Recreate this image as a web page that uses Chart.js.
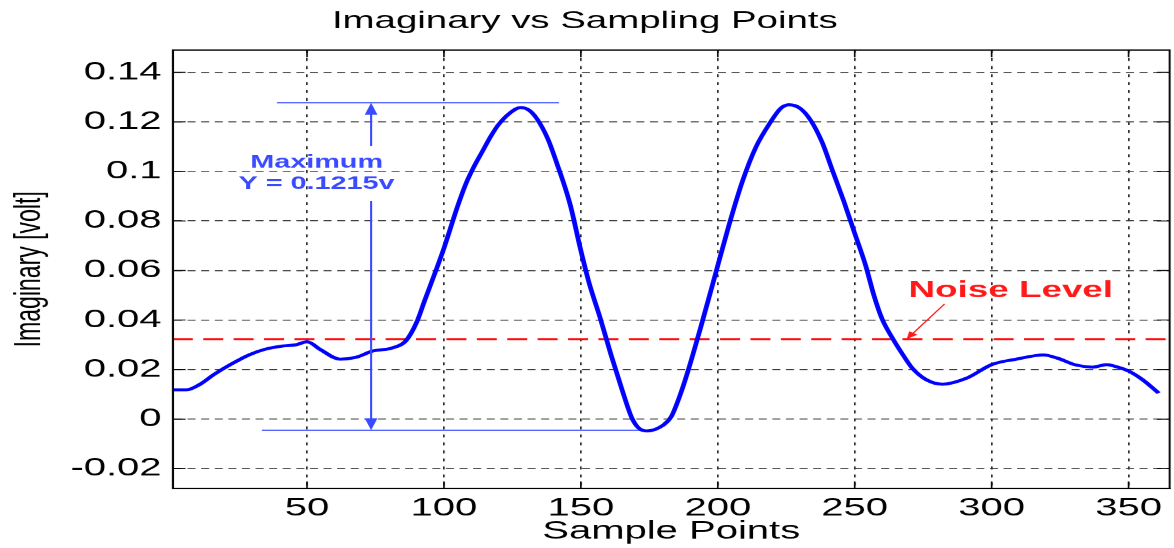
<!DOCTYPE html>
<html lang="en">
<head>
<meta charset="UTF-8">
<title>Imaginary vs Sampling Points</title>
<style>
    body { margin: 0; background: #fff; }
    #wrap { width: 1174px; height: 548px; overflow: hidden; }
    /* the original figure is a stretched MATLAB plot, so draw narrow and stretch */
    #chart { transform: scaleX(1.5995); transform-origin: 0 0; }
</style>
</head>
<body>
<div id="wrap"><canvas id="chart" width="734" height="548"></canvas></div>

<script src="https://cdn.jsdelivr.net/npm/chart.js"></script>
<script>
const samplePoints = [1, 6, 11, 16, 22, 29, 35, 41, 46, 50, 55, 62, 68, 74, 81, 86, 90, 93, 97, 100,
    105, 108, 111, 114, 117, 120, 124, 128, 131, 134, 138, 141, 146, 150, 153, 157, 161, 165, 168.6, 171,
    174, 177, 180, 183, 186, 189, 194, 199, 204, 209, 214, 219, 223, 226, 230, 234, 238, 242, 246, 250,
    254, 257, 260, 264, 267, 271, 276, 282, 291, 300, 309, 319, 324, 331, 337, 342, 346, 350, 355, 361];
const imagValues = [0.0118, 0.0118, 0.0141, 0.018, 0.022, 0.026, 0.0283, 0.0295, 0.030, 0.0312, 0.028, 0.0242, 0.025, 0.0275, 0.0287, 0.0315, 0.039, 0.048, 0.0598, 0.069,
    0.086, 0.095, 0.102, 0.108, 0.114, 0.119, 0.1235, 0.1258, 0.1248, 0.1212, 0.113, 0.104, 0.087, 0.068, 0.055, 0.041, 0.026, 0.012, 0.0005, -0.0035,
    -0.0048, -0.0042, -0.0025, 0.001, 0.009, 0.019, 0.038, 0.058, 0.078, 0.096, 0.110, 0.1195, 0.1255, 0.1269, 0.1255, 0.1205, 0.112, 0.100, 0.088, 0.075,
    0.062, 0.050, 0.0404, 0.0323, 0.027, 0.0206, 0.016, 0.0141, 0.0166, 0.022, 0.0242, 0.0259, 0.0246, 0.0218, 0.021, 0.022, 0.021, 0.0194, 0.016, 0.0105];

const noiseLevel = 0.0323;
const maxMarkX = [39, 142];
const maxMarkY = 0.1277;
const minMarkX = [33.5, 172.6];
const minMarkY = -0.0045;

const xTicks = [50, 100, 150, 200, 250, 300, 350];
const yTicks = [-0.02, 0, 0.02, 0.04, 0.06, 0.08, 0.1, 0.12, 0.14];

const FONT = '"Liberation Sans", Arial, Helvetica, sans-serif';
const ANNOT_BLUE = '#3a4bff';

const annotations = {
    id: 'annotations',
    afterDatasetsDraw(chart) {
        const { ctx, chartArea: a, scales: { x, y } } = chart;
        ctx.save();
        ctx.setLineDash([]);

        // axes box
        ctx.strokeStyle = '#000';
        ctx.lineWidth = 1.2;
        ctx.strokeRect(a.left, a.top, a.right - a.left, a.bottom - a.top);

        // inward tick marks on all four sides
        ctx.lineWidth = 1;
        ctx.beginPath();
        yTicks.forEach(v => {
            const py = y.getPixelForValue(v);
            ctx.moveTo(a.left, py); ctx.lineTo(a.left + 8, py);
            ctx.moveTo(a.right, py); ctx.lineTo(a.right - 8, py);
        });
        xTicks.forEach(v => {
            const px = x.getPixelForValue(v);
            ctx.moveTo(px, a.bottom); ctx.lineTo(px, a.bottom - 7);
            ctx.moveTo(px, a.top); ctx.lineTo(px, a.top + 7);
        });
        ctx.stroke();

        // double arrow between min and max markers
        const ax = x.getPixelForValue(73.4);
        const yTop = y.getPixelForValue(maxMarkY);
        const yBot = y.getPixelForValue(minMarkY);
        const gapTop = y.getPixelForValue(0.1103);
        const gapBot = y.getPixelForValue(0.0881);
        ctx.strokeStyle = ANNOT_BLUE;
        ctx.fillStyle = ANNOT_BLUE;
        ctx.lineWidth = 1.3;
        ctx.beginPath();
        ctx.moveTo(ax, yTop + 8); ctx.lineTo(ax, gapTop);
        ctx.moveTo(ax, gapBot); ctx.lineTo(ax, yBot - 8);
        ctx.stroke();
        ctx.beginPath();
        ctx.moveTo(ax, yTop); ctx.lineTo(ax - 4, yTop + 12); ctx.lineTo(ax + 4, yTop + 12); ctx.closePath();
        ctx.moveTo(ax, yBot); ctx.lineTo(ax - 4, yBot - 12); ctx.lineTo(ax + 4, yBot - 12); ctx.closePath();
        ctx.fill();

        ctx.font = 'bold 18px ' + FONT;
        ctx.textAlign = 'center';
        ctx.textBaseline = 'middle';
        const tx = x.getPixelForValue(53.5);
        ctx.fillText('Maximum', tx, y.getPixelForValue(0.1034));
        ctx.fillText('Y = 0.1215v', tx, y.getPixelForValue(0.095));

        // noise level label and pointer
        ctx.fillStyle = '#ff1a1a';
        ctx.strokeStyle = '#ff1a1a';
        ctx.font = 'bold 23px ' + FONT;
        ctx.fillText('Noise Level', x.getPixelForValue(307), y.getPixelForValue(0.0517));
        const x1 = x.getPixelForValue(282.8), y1 = y.getPixelForValue(0.0465);
        const x2 = x.getPixelForValue(269), y2 = y.getPixelForValue(0.0323);
        ctx.lineWidth = 1;
        ctx.beginPath();
        ctx.moveTo(x1, y1); ctx.lineTo(x2, y2);
        ctx.stroke();
        const ang = Math.atan2(y2 - y1, x2 - x1);
        ctx.beginPath();
        ctx.moveTo(x2, y2);
        ctx.lineTo(x2 - 8 * Math.cos(ang - 0.4), y2 - 8 * Math.sin(ang - 0.4));
        ctx.lineTo(x2 - 8 * Math.cos(ang + 0.4), y2 - 8 * Math.sin(ang + 0.4));
        ctx.closePath();
        ctx.fill();

        ctx.restore();
    }
};

const ctx = document.getElementById('chart').getContext('2d');
new Chart(ctx, {
    type: 'line',
    data: {
        datasets: [
            {
                label: 'Imaginary',
                data: samplePoints.map((s, i) => ({ x: s, y: imagValues[i] })),
                borderColor: '#0000ff',
                borderWidth: 3,
                pointRadius: 0,
                cubicInterpolationMode: 'monotone',
                order: 1
            },
            {
                label: 'Noise Level',
                data: [{ x: 1, y: noiseLevel }, { x: 365, y: noiseLevel }],
                borderColor: '#ff0000',
                borderWidth: 2,
                borderDash: [12.5, 6.5],
                pointRadius: 0,
                order: 2
            },
            {
                label: 'max',
                data: maxMarkX.map(v => ({ x: v, y: maxMarkY })),
                borderColor: ANNOT_BLUE,
                borderWidth: 1.3,
                pointRadius: 0,
                order: 3
            },
            {
                label: 'min',
                data: minMarkX.map(v => ({ x: v, y: minMarkY })),
                borderColor: ANNOT_BLUE,
                borderWidth: 1.3,
                pointRadius: 0,
                order: 3
            }
        ]
    },
    options: {
        responsive: false,
        devicePixelRatio: 1.6,
        animation: false,
        layout: { padding: { left: 0, right: 3, top: 0, bottom: 0 } },
        plugins: {
            legend: { display: false },
            tooltip: { enabled: false },
            title: {
                display: true,
                text: 'Imaginary vs Sampling Points',
                color: '#000',
                font: { family: FONT, size: 24, weight: 'normal' },
                padding: { top: 7, bottom: 14.2 }
            }
        },
        scales: {
            x: {
                type: 'linear',
                min: 1,
                max: 365,
                afterBuildTicks: scale => { scale.ticks = xTicks.map(v => ({ value: v })); },
                afterFit: scale => { scale.height = 60; },
                grid: { color: '#222', lineWidth: 1, drawTicks: false },
                border: { display: true, color: '#000', width: 1.2, dash: [3, 5] },
                ticks: { color: '#000', padding: 5, maxRotation: 0, font: { family: FONT, size: 25 } },
                title: {
                    display: true,
                    text: 'Sample Points',
                    color: '#000',
                    font: { family: FONT, size: 25 },
                    padding: { top: 0, bottom: 2 }
                }
            },
            y: {
                min: -0.028,
                max: 0.149,
                afterBuildTicks: scale => { scale.ticks = yTicks.map(v => ({ value: v })); },
                afterFit: scale => { scale.width = 108; },
                grid: { color: '#333', lineWidth: 1, drawTicks: false },
                border: { display: true, color: '#000', width: 1.2, dash: [5, 3.5] },
                ticks: {
                    color: '#000',
                    padding: 7,
                    font: { family: FONT, size: 25 },
                    callback: v => String(Number(v.toFixed(2)))
                },
                title: {
                    display: true,
                    text: 'Imaginary [volt]',
                    color: '#000',
                    font: { family: FONT, size: 23 },
                    padding: { top: 5, bottom: 0 }
                }
            }
        }
    },
    plugins: [annotations]
});
</script>
</body>
</html>
